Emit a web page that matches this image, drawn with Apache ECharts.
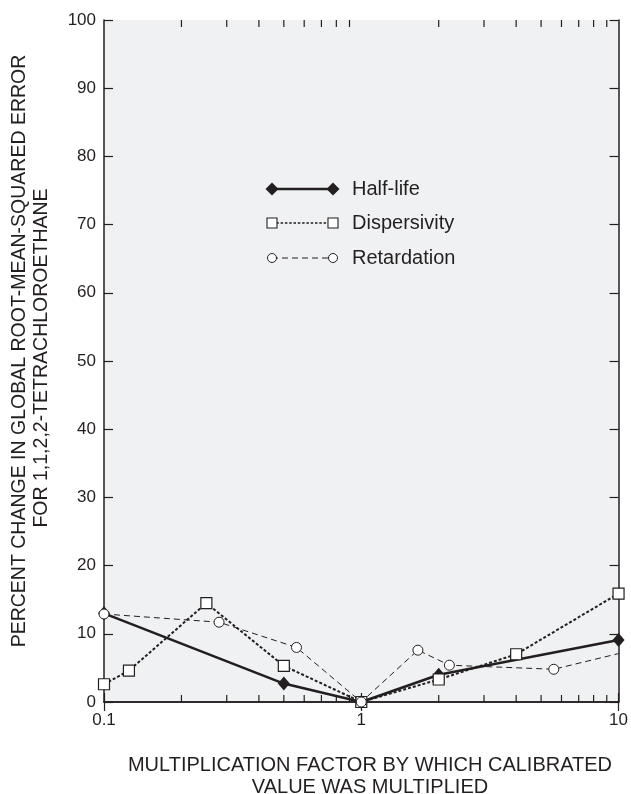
<!DOCTYPE html>
<html>
<head>
<meta charset="utf-8">
<script src="https://cdn.jsdelivr.net/npm/echarts@6/dist/echarts.min.js"></script>
<style>
html,body{margin:0;padding:0;background:#fff;}
#chart{width:631px;height:794px;}
</style>
</head>
<body>
<div id="chart"></div>
<script>
// ---- data ----
const halfLifeX = [0.1, 0.5, 1, 2, 10];
const halfLifeY = [13, 2.7, 0, 4, 9.1];
const dispersivityX = [0.1, 0.125, 0.25, 0.5, 1, 2, 4, 10];
const dispersivityY = [2.6, 4.6, 14.5, 5.3, 0, 3.3, 7.0, 15.9];
const retardationX = [0.1, 0.28, 0.56, 1, 1.66, 2.2, 5.6, 10];
const retardationY = [12.9, 11.7, 8.0, 0, 7.6, 5.4, 4.8, 7.1];
const retardationMarked = [true, true, true, true, true, true, true, false];
const minorTickValues = [0.2, 0.3, 0.4, 0.5, 0.6, 0.7, 0.8, 0.9, 2, 3, 4, 5, 6, 7, 8, 9];
const seriesNames = ['Half-life', 'Dispersivity', 'Retardation'];
const xTitle = ['MULTIPLICATION FACTOR BY WHICH CALIBRATED', 'VALUE WAS MULTIPLIED'];
const yTitle = ['PERCENT CHANGE IN GLOBAL ROOT-MEAN-SQUARED ERROR', 'FOR 1,1,2,2-TETRACHLOROETHANE'];

const INK = '#231f20';
const FONT = "'Liberation Sans', Arial, Helvetica, sans-serif";

const pairs = (xs, ys) => xs.map((x, i) => [x, ys[i]]);

const chart = echarts.init(document.getElementById('chart'), null, {renderer: 'canvas'});

const axisLine = {show: true, lineStyle: {color: INK, width: 1.5}};

const option = {
  backgroundColor: '#ffffff',
  animation: false,
  grid: {left: 104, right: 9, top: 20, bottom: 92, show: true, backgroundColor: '#f0f1f3', borderWidth: 0},
  xAxis: [
    {
      type: 'log', logBase: 10, min: 0.1, max: 10, position: 'bottom',
      axisLine: axisLine,
      axisTick: {show: true, inside: true, length: 9, lineStyle: {color: INK, width: 1.2}},
      splitLine: {show: false},
      axisLabel: {color: INK, fontSize: 17, fontFamily: FONT, margin: 10,
        formatter: v => (v < 1 ? String(+v.toFixed(1)) : String(Math.round(v)))}
    },
    {
      type: 'log', logBase: 10, min: 0.1, max: 10, position: 'top',
      axisLine: axisLine,
      axisTick: {show: true, inside: true, length: 9, lineStyle: {color: INK, width: 1.2}},
      splitLine: {show: false},
      axisLabel: {show: false}
    }
  ],
  yAxis: [
    {
      type: 'value', min: 0, max: 100, interval: 10, position: 'left',
      axisLine: axisLine,
      axisTick: {show: true, inside: true, length: 9, lineStyle: {color: INK, width: 1.2}},
      splitLine: {show: false},
      axisLabel: {color: INK, fontSize: 17, fontFamily: FONT, margin: 8}
    },
    {
      type: 'value', min: 0, max: 100, interval: 10, position: 'right',
      axisLine: axisLine,
      axisTick: {show: true, inside: true, length: 9, lineStyle: {color: INK, width: 1.2}},
      splitLine: {show: false},
      axisLabel: {show: false}
    }
  ],
  series: [
    {
      type: 'custom', name: 'minorTicks', silent: true, clip: false, z: 1,
      data: minorTickValues.map(v => [v, 0]),
      renderItem: function (params, api) {
        const b = api.coord([api.value(0), 0]);
        const t = api.coord([api.value(0), 100]);
        const st = {stroke: INK, lineWidth: 1.2};
        return {
          type: 'group',
          children: [
            {type: 'line', shape: {x1: b[0], y1: b[1], x2: b[0], y2: b[1] - 7}, style: st},
            {type: 'line', shape: {x1: t[0], y1: t[1], x2: t[0], y2: t[1] + 7}, style: st}
          ]
        };
      }
    },
    {
      name: seriesNames[0], type: 'line', data: pairs(halfLifeX, halfLifeY),
      symbol: 'diamond', symbolSize: [12, 14],
      lineStyle: {color: INK, width: 2.6, type: 'solid'},
      itemStyle: {color: INK, borderColor: INK, borderWidth: 0},
      z: 3
    },
    {
      name: seriesNames[1], type: 'line', data: pairs(dispersivityX, dispersivityY),
      symbol: 'rect', symbolSize: 11,
      lineStyle: {color: INK, width: 2, type: [3, 2]},
      itemStyle: {color: '#ffffff', borderColor: INK, borderWidth: 1.2},
      z: 4
    },
    {
      name: seriesNames[2], type: 'line',
      data: pairs(retardationX, retardationY).map((p, i) =>
        retardationMarked[i] ? p : {value: p, symbol: 'none'}),
      symbol: 'circle', symbolSize: 10,
      lineStyle: {color: INK, width: 1, type: [6, 4]},
      itemStyle: {color: '#ffffff', borderColor: INK, borderWidth: 1},
      z: 5
    }
  ],
  graphic: []
};

// axis titles
const titleStyle = {fill: INK, font: "20px " + FONT, textAlign: 'center', textVerticalAlign: 'middle'};
const yTitleStyle = {fill: INK, font: "19.5px " + FONT, textAlign: 'center', textVerticalAlign: 'middle'};
option.graphic.push({type: 'text', x: 370, y: 765, style: Object.assign({text: xTitle[0]}, titleStyle)});
option.graphic.push({type: 'text', x: 370, y: 787, style: Object.assign({text: xTitle[1]}, titleStyle)});
option.graphic.push({type: 'text', x: 20, y: 351, rotation: Math.PI / 2, style: Object.assign({text: yTitle[0]}, yTitleStyle)});
option.graphic.push({type: 'text', x: 42, y: 358, rotation: Math.PI / 2, style: Object.assign({text: yTitle[1]}, yTitleStyle)});

// legend
const lx1 = 272, lx2 = 333, ltx = 352;
const rows = [189, 223, 258];
function diamond(cx, cy) {
  return {type: 'polygon', shape: {points: [[cx - 6.5, cy], [cx, cy - 6.5], [cx + 6.5, cy], [cx, cy + 6.5]]},
    style: {fill: INK}, z: 10};
}
function square(cx, cy) {
  return {type: 'rect', shape: {x: cx - 5, y: cy - 5, width: 10, height: 10},
    style: {fill: '#fff', stroke: INK, lineWidth: 1.1}, z: 10};
}
function circ(cx, cy) {
  return {type: 'circle', shape: {cx: cx, cy: cy, r: 4.5},
    style: {fill: '#fff', stroke: INK, lineWidth: 1}, z: 10};
}
const legendText = {fill: INK, font: "20px " + FONT, textAlign: 'left', textVerticalAlign: 'middle'};
option.graphic.push({type: 'line', shape: {x1: lx1, y1: rows[0], x2: lx2, y2: rows[0]}, style: {stroke: INK, lineWidth: 2.6}, z: 9});
option.graphic.push(diamond(lx1, rows[0]), diamond(lx2, rows[0]));
option.graphic.push({type: 'text', x: ltx, y: rows[0], style: Object.assign({text: seriesNames[0]}, legendText)});
option.graphic.push({type: 'line', shape: {x1: lx1, y1: rows[1], x2: lx2, y2: rows[1]}, style: {stroke: INK, lineWidth: 1.6, lineDash: [2.5, 1.8]}, z: 9});
option.graphic.push(square(lx1, rows[1]), square(lx2, rows[1]));
option.graphic.push({type: 'text', x: ltx, y: rows[1], style: Object.assign({text: seriesNames[1]}, legendText)});
option.graphic.push({type: 'line', shape: {x1: lx1, y1: rows[2], x2: lx2, y2: rows[2]}, style: {stroke: INK, lineWidth: 1, lineDash: [6, 4]}, z: 9});
option.graphic.push(circ(lx1, rows[2]), circ(lx2, rows[2]));
option.graphic.push({type: 'text', x: ltx, y: rows[2], style: Object.assign({text: seriesNames[2]}, legendText)});

chart.setOption(option);
</script>
</body>
</html>
